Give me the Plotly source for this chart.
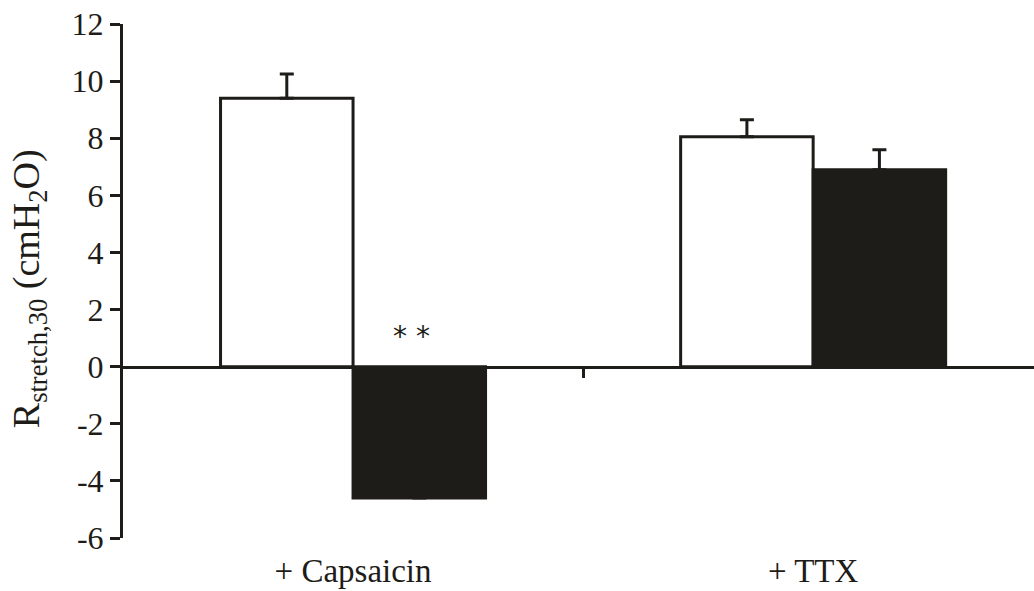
import plotly.graph_objects as go

categories = ["+ Capsaicin", "+ TTX"]
control_values = [9.4, 8.05]
control_err = [0.85, 0.6]
treated_values = [-4.6, 6.9]
treated_err = [None, 0.7]
y_ticks = [-6, -4, -2, 0, 2, 4, 6, 8, 10, 12]
y_tick_text = ["-6", "-4", "-2", "0", "2", "4", "6", "8", "10", "12"]
y_title = "R<sub>stretch,30</sub> (cmH<sub>2</sub>O)"
sig_label = "* *"

FONT = "Liberation Serif"
BLACK = "#1e1c18"

xpos = list(range(len(categories)))
boundaries = [i + 0.5 for i in xpos[:-1]]


def no_minus(errs):
    return [None if e is None else 0 for e in errs]


fig = go.Figure()
fig.add_trace(go.Bar(
    x=xpos, y=control_values, name="control",
    marker=dict(color="white", line=dict(color=BLACK, width=3)),
    error_y=dict(type="data", symmetric=False, array=control_err,
                 arrayminus=no_minus(control_err), color=BLACK,
                 thickness=3, width=7),
))
fig.add_trace(go.Bar(
    x=xpos, y=treated_values, name="treated",
    marker=dict(color=BLACK, line=dict(color=BLACK, width=3)),
    error_y=dict(type="data", symmetric=False, array=treated_err,
                 arrayminus=no_minus(treated_err), color=BLACK,
                 thickness=3, width=7),
))
# invisible helper trace so the bottom label axis is drawn
fig.add_trace(go.Scatter(
    x=xpos, y=[0] * len(xpos), xaxis="x2", mode="markers",
    marker=dict(opacity=0), hoverinfo="skip", showlegend=False,
))

fig.add_annotation(
    x=0.128, y=1.05, xref="x", yref="y", text=sig_label, showarrow=False,
    font=dict(family="DejaVu Sans", size=28, color=BLACK),
)
# y-axis title
fig.add_annotation(
    x=0, y=0.484, xref="paper", yref="paper", xshift=-94,
    text=y_title, textangle=-90, showarrow=False,
    xanchor="center", yanchor="middle",
    font=dict(family=FONT, size=38, color=BLACK),
)

fig.update_layout(
    width=1034, height=591,
    margin=dict(l=123, r=0, t=24, b=53),
    paper_bgcolor="white", plot_bgcolor="white",
    barmode="group", bargap=0.424, bargroupgap=0,
    showlegend=False,
    font=dict(family=FONT, color=BLACK),
    xaxis=dict(
        range=[-0.5, 1.48],
        anchor="free", position=1 / 3,
        showline=True, linecolor=BLACK, linewidth=3,
        ticks="outside", tickvals=boundaries, ticklen=9, tickwidth=3,
        tickcolor=BLACK, showticklabels=False, showgrid=False, zeroline=False,
    ),
    xaxis2=dict(
        overlaying="x", matches="x", anchor="y", side="bottom",
        tickvals=xpos, ticktext=categories,
        showline=False, ticks="", showgrid=False, zeroline=False,
        tickfont=dict(family=FONT, size=33, color=BLACK),
        ticklabelstandoff=10,
    ),
    yaxis=dict(
        range=[-6, 12], tickvals=y_ticks, ticktext=y_tick_text,
        showline=True, linecolor=BLACK, linewidth=3,
        ticks="outside", ticklen=10, tickwidth=3, tickcolor=BLACK,
        tickfont=dict(family=FONT, size=32, color=BLACK),
        showgrid=False, zeroline=False,
    ),
)

fig.write_html("out.html")
